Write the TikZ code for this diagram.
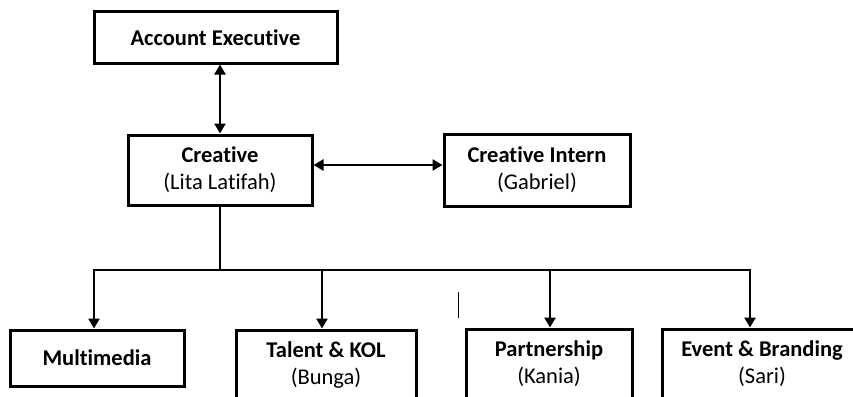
\documentclass[tikz,border=0pt]{standalone}
\usepackage{fontspec}
\setmainfont{Carlito}[Ligatures={NoCommon}]
\usetikzlibrary{arrows.meta,positioning}

\begin{document}
\begin{tikzpicture}[
  x=1pt, y=-1pt,
  >={Triangle[length=10pt,width=11pt]},
  box/.style={draw,line width=3pt,inner sep=0pt,align=center,
              font=\fontsize{22.5}{27}\selectfont},
  arr/.style={->,line width=2.4pt},
  biarr/.style={<->,line width=2.4pt},
  line/.style={line width=2.4pt}
]
\useasboundingbox (0,0) rectangle (853,396);
\clip (0,0) rectangle (853,396);

% top part
\node[box,minimum width=243pt,minimum height=51pt] (AE) at (215.5,37.5)
  {\textbf{Account Executive}};
\node[box,minimum width=184pt,minimum height=70pt] (C) at (220,170)
  {\textbf{Creative}\\(Lita Latifah)};
\node[box,minimum width=186pt,minimum height=72pt,right=129pt of C] (CI)
  {\textbf{Creative Intern}\\(Gabriel)};

% divisions
\node[box,minimum width=174pt,minimum height=56pt] (MM) at (97,358)
  {\textbf{Multimedia}};
\node[box,minimum width=180pt,minimum height=70pt] (TK) at (326,365)
  {\textbf{Talent \& KOL}\\(Bunga)};
\node[box,minimum width=166pt,minimum height=70pt] (PS) at (549,364)
  {\textbf{Partnership}\\(Kania)};
\node[box,minimum width=200pt,minimum height=70pt] (EB) at (762,364)
  {\textbf{Event \& Branding}\\(Sari)};

\draw[biarr] (C.north) -- (C.north |- AE.south);
\draw[biarr] ([yshift=5pt]C.east) -- ([yshift=5pt]C.east -| CI.west);

\coordinate (bus) at (220,270);
\draw[line] (C.south) -- (bus);
\draw[arr] (bus) -| ([xshift=-3pt]MM.north);
\draw[arr] (bus) -| ([xshift=-4pt]TK.north);
\draw[arr] (bus) -| ([xshift=1pt]PS.north);
\draw[arr] (bus) -| ([xshift=-12pt]EB.north);

% stray mark
\coordinate (m1) at (458,292);
\coordinate (m2) at (458,318);
\draw[line width=0.8pt] (m1) -- (m2);
\end{tikzpicture}
\end{document}
